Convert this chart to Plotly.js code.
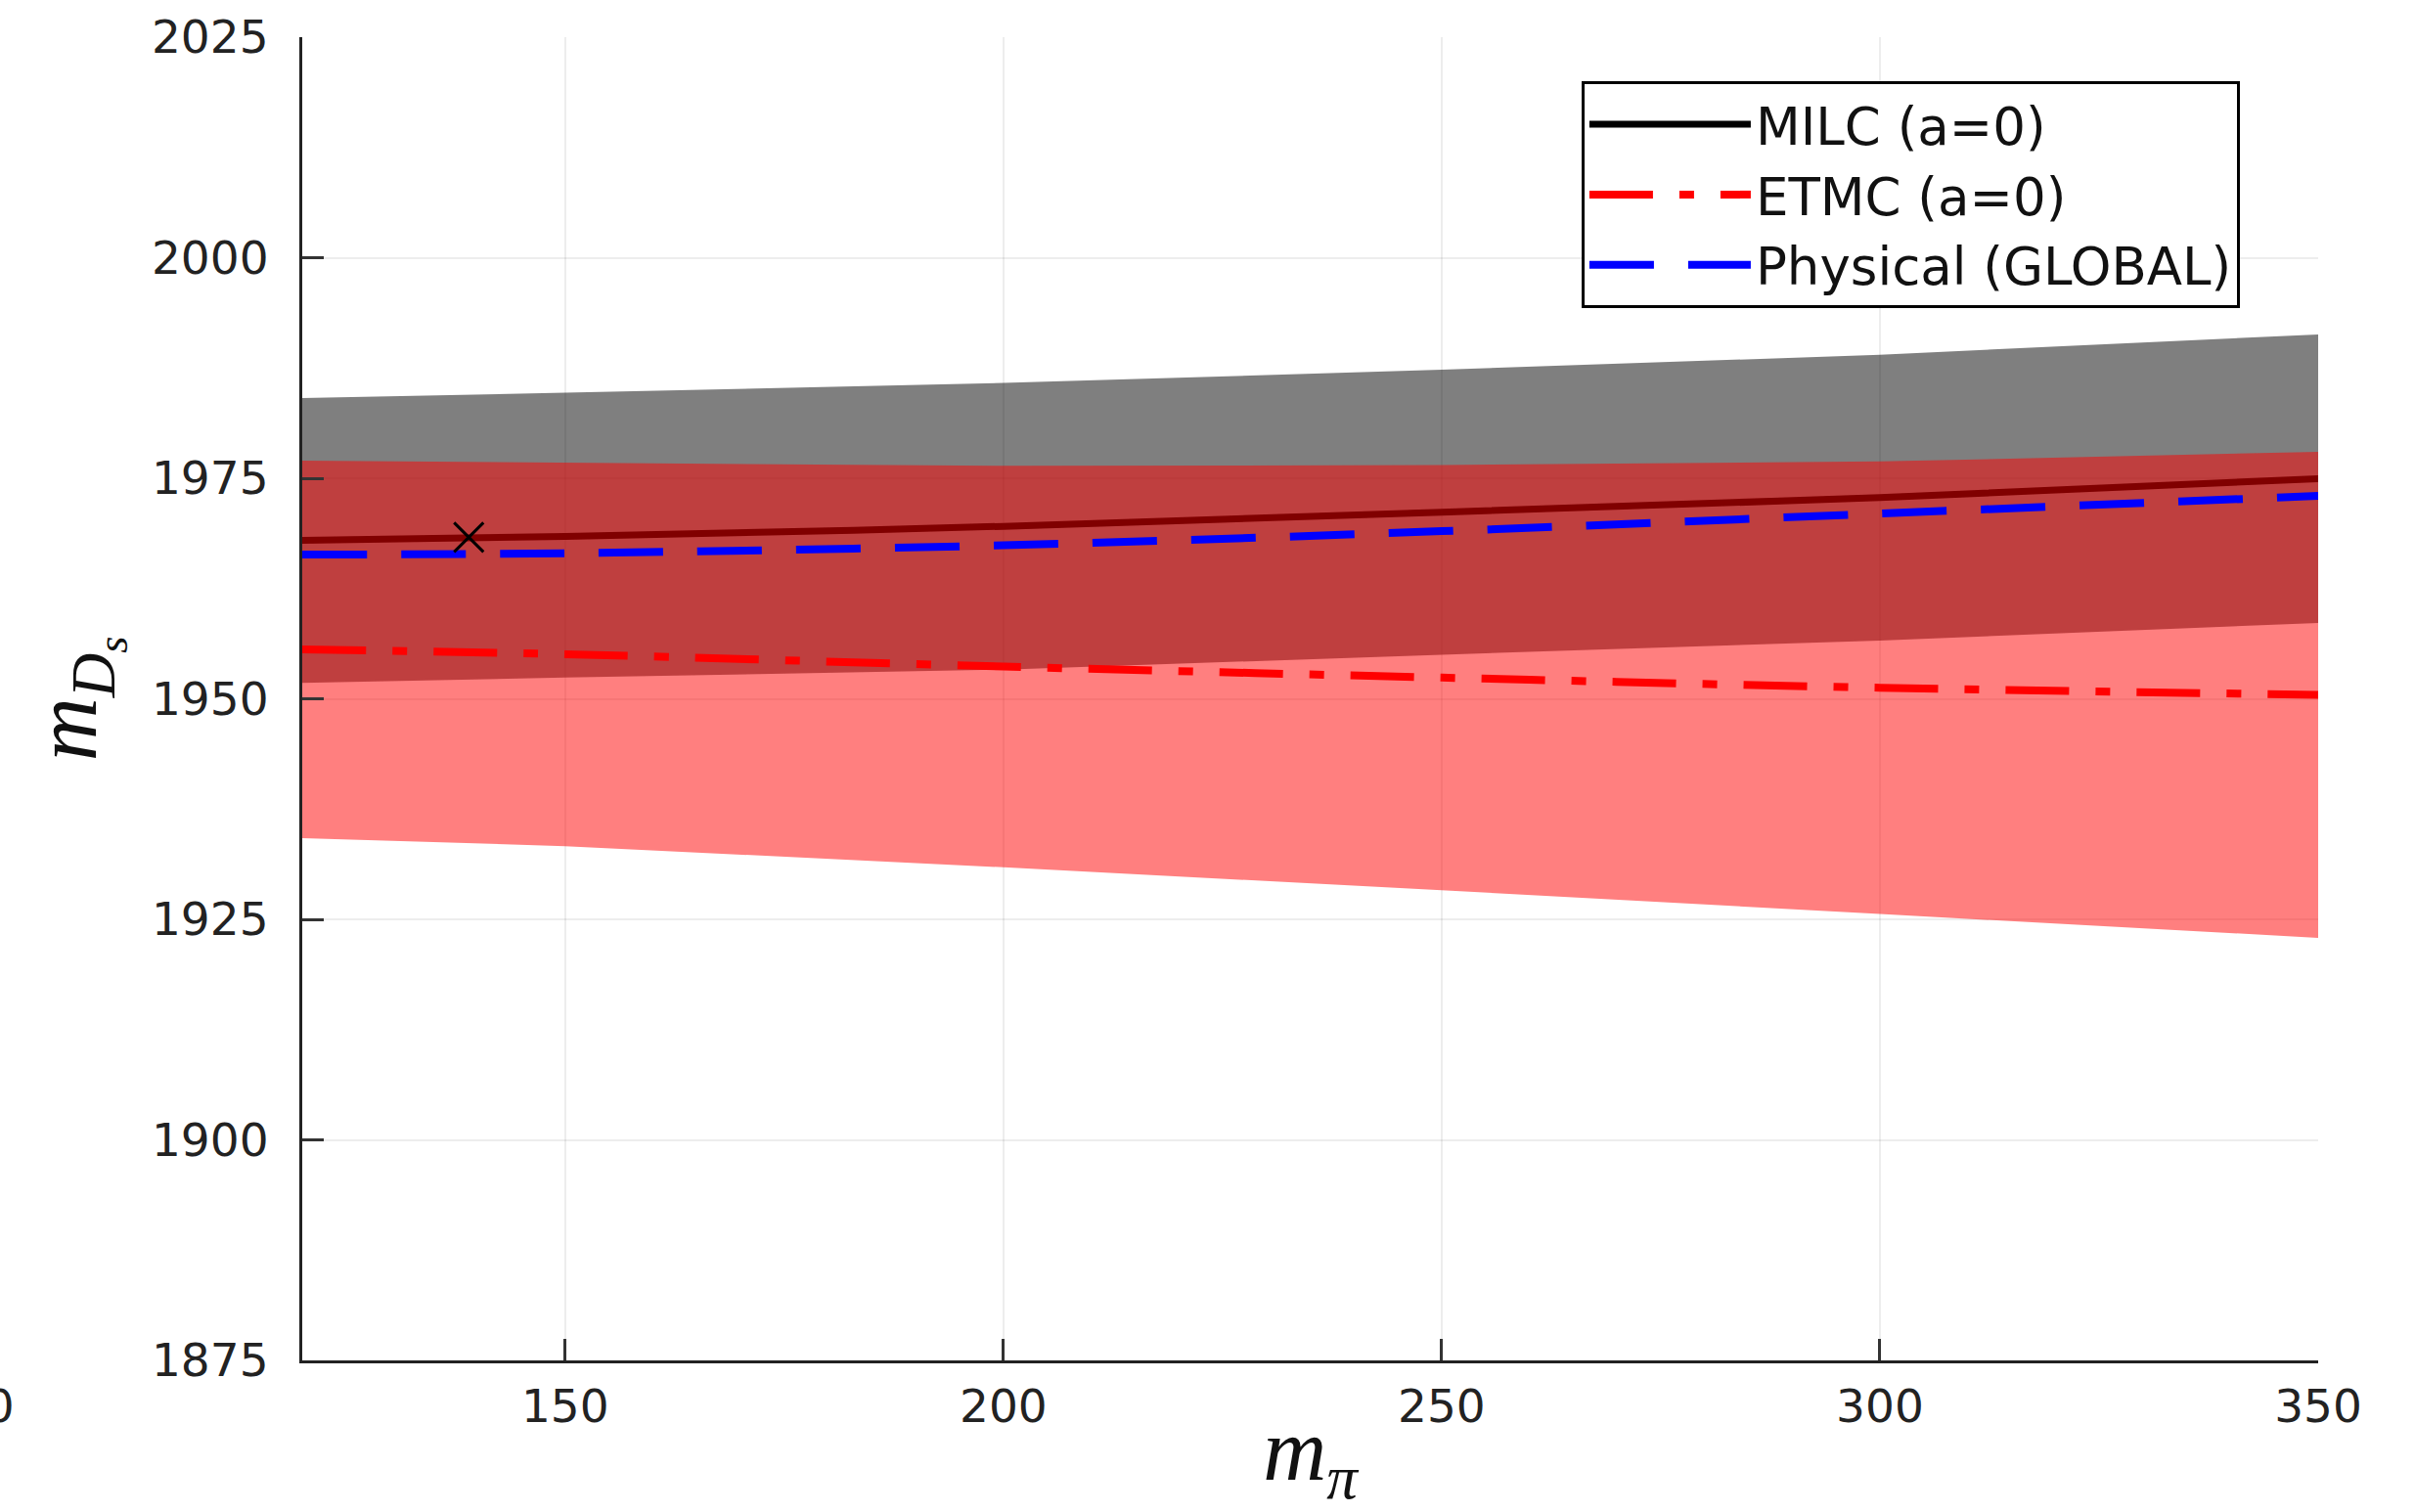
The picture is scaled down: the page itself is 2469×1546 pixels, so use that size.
<!DOCTYPE html>
<html>
<head>
<meta charset="utf-8">
<script src="https://cdn.plot.ly/plotly-3.0.1.min.js"></script>
<style>html,body{margin:0;padding:0;background:#fff;}</style>
</head>
<body>
<div id="chart" style="width:2469px;height:1546px;"></div>
<script>
// m_pi sample points
const mPi = [120, 150, 200, 250, 300, 350];
// MILC (a=0)
const milcCentral = [1967.95, 1968.4, 1969.55, 1971.15, 1972.8, 1974.95];
const milcLower   = [1951.8, 1952.4, 1953.3, 1955.0, 1956.6, 1958.6];
const milcUpper   = [1984.1, 1984.7, 1985.8, 1987.3, 1989.0, 1991.3];
// ETMC (a=0)
const etmcCentral = [1955.6, 1955.05, 1953.65, 1952.4, 1951.25, 1950.45];
const etmcLower   = [1934.2, 1933.3, 1930.9, 1928.3, 1925.6, 1922.9];
const etmcUpper   = [1977.0, 1976.8, 1976.4, 1976.5, 1976.9, 1978.0];
// Physical (GLOBAL)
const physCentral = [1966.35, 1966.5, 1967.4, 1969.0, 1971.0, 1973.0];
// physical point
const physPointX = [139.0];
const physPointY = [1968.3];
// ticks
const xTicks = [150, 200, 250, 300, 350];
const yTicks = [1875, 1900, 1925, 1950, 1975, 2000, 2025];

function band(x, lo, hi) {
  return {
    x: x.concat(x.slice().reverse()),
    y: hi.concat(lo.slice().reverse())
  };
}
const milcBand = band(mPi, milcLower, milcUpper);
const etmcBand = band(mPi, etmcLower, etmcUpper);

const traces = [
  {x: milcBand.x, y: milcBand.y, type: 'scatter', mode: 'lines', fill: 'toself',
   fillcolor: 'rgba(0,0,0,0.5)', line: {width: 0, color: 'rgba(0,0,0,0)'},
   showlegend: false, hoverinfo: 'skip'},
  {x: mPi, y: milcCentral, type: 'scatter', mode: 'lines', name: 'MILC (a=0)',
   line: {color: '#000000', width: 7, shape: 'spline'}},
  {x: etmcBand.x, y: etmcBand.y, type: 'scatter', mode: 'lines', fill: 'toself',
   fillcolor: 'rgba(255,0,0,0.5)', line: {width: 0, color: 'rgba(0,0,0,0)'},
   showlegend: false, hoverinfo: 'skip'},
  {x: mPi, y: etmcCentral, type: 'scatter', mode: 'lines', name: 'ETMC (a=0)',
   line: {color: '#ff0000', width: 8, shape: 'spline', dash: '65px,27px,15px,27px'}},
  {x: mPi, y: physCentral, type: 'scatter', mode: 'lines', name: 'Physical (GLOBAL)',
   line: {color: '#0000ff', width: 8, shape: 'spline', dash: '66px,35px'}},
  {x: physPointX, y: physPointY, type: 'scatter', mode: 'markers', showlegend: false,
   marker: {symbol: 'x-thin-open', size: 30, color: '#000', line: {color: '#000', width: 3}}}
];

const tickFont = {family: 'DejaVu Sans', size: 47, color: '#222'};

const layout = {
  width: 2469, height: 1546,
  margin: {l: 309, r: 99, t: 38, b: 155, pad: 0},
  paper_bgcolor: '#ffffff', plot_bgcolor: '#ffffff',
  showlegend: true,
  xaxis: {
    range: [120, 350], tickmode: 'array', tickvals: xTicks, ticktext: xTicks.map(String),
    ticks: 'inside', ticklen: 22, tickwidth: 3, tickcolor: '#333',
    showline: true, linecolor: '#222', linewidth: 3, mirror: false,
    showgrid: true, gridcolor: 'rgba(0,0,0,0.07)', gridwidth: 2, zeroline: false,
    tickfont: tickFont, ticklabelstandoff: 4,
    title: {text: '<i>m</i><sub><i>π</i></sub>', font: {family: 'Liberation Serif', size: 90, color: '#111'}, standoff: 42}
  },
  yaxis: {
    range: [1875, 2025], tickmode: 'array', tickvals: yTicks, ticktext: yTicks.map(String),
    ticks: 'inside', ticklen: 22, tickwidth: 3, tickcolor: '#333',
    showline: true, linecolor: '#222', linewidth: 3, mirror: false,
    showgrid: true, gridcolor: 'rgba(0,0,0,0.07)', gridwidth: 2, zeroline: false,
    tickfont: tickFont, ticklabelstandoff: 22,
    title: {text: '<i>m</i><sub><i>D</i><sub><i>s</i></sub></sub>', font: {family: 'Liberation Serif', size: 90, color: '#111'}, standoff: 27}
  },
  legend: {
    x: 0.6346, y: 0.9667, xanchor: 'left', yanchor: 'top',
    bgcolor: '#ffffff', bordercolor: '#000', borderwidth: 3,
    font: {family: 'DejaVu Sans', size: 53, color: '#111'},
    itemwidth: 165, tracegroupgap: 0
  },
  annotations: [
    {text: '100', xref: 'paper', yref: 'paper', x: -0.1417, y: -0.034,
     xanchor: 'right', yanchor: 'middle', showarrow: false, font: tickFont}
  ]
};

Plotly.newPlot('chart', traces, layout, {displayModeBar: false, staticPlot: true});
</script>
</body>
</html>
